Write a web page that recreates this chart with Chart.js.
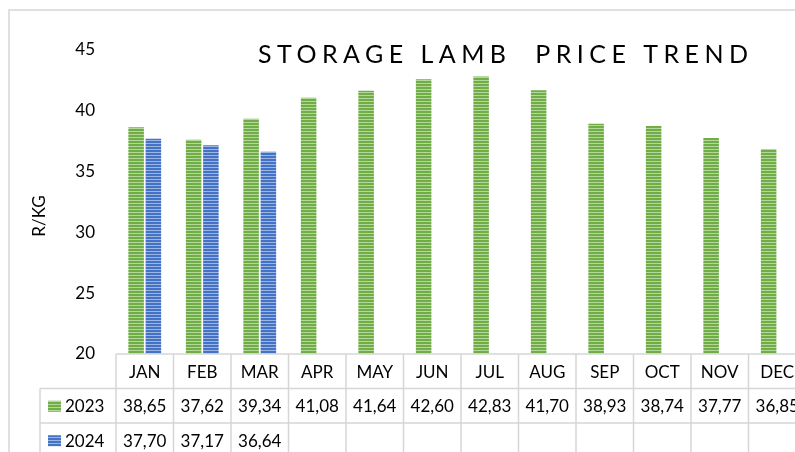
<!DOCTYPE html>
<html>
<head>
<meta charset="utf-8">
<script src="https://cdn.jsdelivr.net/npm/chart.js@4.4.1/dist/chart.umd.min.js"></script>
<style>
  html, body { margin: 0; padding: 0; background: #fff; overflow: hidden; }
  #wrap { width: 795px; height: 452px; overflow: hidden; }
</style>
</head>
<body>
<div id="wrap"><canvas id="priceChart" width="815" height="452"></canvas></div>
<script>
const months = ['JAN', 'FEB', 'MAR', 'APR', 'MAY', 'JUN', 'JUL', 'AUG', 'SEP', 'OCT', 'NOV', 'DEC'];
const prices2023 = [38.65, 37.62, 39.34, 41.08, 41.64, 42.60, 42.83, 41.70, 38.93, 38.74, 37.77, 36.85];
const prices2024 = [37.70, 37.17, 36.64, null, null, null, null, null, null, null, null, null];
const seriesNames = ['2023', '2024'];
const yTicks = [20, 25, 30, 35, 40, 45];
const chartTitle = 'STORAGE LAMB  PRICE TREND';
const axisTitle = 'R/KG';

const FONT = 'Lato, "Open Sans", sans-serif';
const GRID = '#d6d6d6';

// stripe fill like the excel pattern
function stripes(dark, light) {
  const c = document.createElement('canvas');
  c.width = 4;
  c.height = 3;
  const g = c.getContext('2d');
  g.fillStyle = dark;
  g.fillRect(0, 0, 4, 2);
  g.fillStyle = light;
  g.fillRect(0, 2, 4, 1);
  return g.createPattern(c, 'repeat');
}

const greenFill = stripes('#70AD47', '#B4D89C');
const blueFill = stripes('#4472C4', '#9DB5E3');

function fmt(v) {
  return v == null ? '' : v.toFixed(2).replace('.', ',');
}

// title, axis title, frame and data table
const tablePlugin = {
  id: 'tablePlugin',
  afterDraw(chart) {
    const ctx = chart.ctx;
    const area = chart.chartArea;
    const x = chart.scales.x;
    const colW = (area.right - area.left) / months.length;
    const rowH = 34.5;
    const top = area.bottom;
    const legendLeft = 40;

    ctx.save();
    // outer frame
    ctx.strokeStyle = GRID;
    ctx.lineWidth = 1.5;
    ctx.strokeRect(9, 10, 900, 600);

    // title, spread out to the width of the original
    ctx.fillStyle = '#000';
    ctx.font = '25px ' + FONT;
    ctx.textAlign = 'left';
    ctx.textBaseline = 'alphabetic';
    const plain = ctx.measureText(chartTitle).width;
    const spacing = (490 - plain) / (chartTitle.length - 1);
    ctx.letterSpacing = spacing + 'px';
    ctx.fillText(chartTitle, 258, 63);
    ctx.letterSpacing = '0px';

    // y axis title
    ctx.save();
    ctx.translate(40, 216);
    ctx.rotate(-Math.PI / 2);
    ctx.font = '17px ' + FONT;
    ctx.textAlign = 'center';
    ctx.textBaseline = 'middle';
    ctx.fillText(axisTitle, 0, 0);
    ctx.restore();

    // grid lines
    ctx.strokeStyle = GRID;
    ctx.lineWidth = 1.5;
    ctx.beginPath();
    ctx.moveTo(area.left, top);
    ctx.lineTo(area.right, top);
    for (let r = 1; r <= 3; r++) {
      ctx.moveTo(legendLeft, top + r * rowH);
      ctx.lineTo(area.right, top + r * rowH);
    }
    for (let i = 0; i <= months.length; i++) {
      const lx = area.left + i * colW;
      ctx.moveTo(lx, top);
      ctx.lineTo(lx, top + 3 * rowH);
    }
    ctx.moveTo(legendLeft, top + rowH);
    ctx.lineTo(legendLeft, top + 3 * rowH);
    ctx.stroke();

    // month labels and values
    ctx.fillStyle = '#000';
    ctx.font = '17px ' + FONT;
    ctx.textAlign = 'center';
    ctx.textBaseline = 'middle';
    months.forEach((m, i) => {
      const cx = x.getPixelForValue(i);
      ctx.fillText(m, cx, top + rowH / 2 + 1);
      ctx.fillText(fmt(prices2023[i]), cx, top + rowH * 1.5 + 1);
      ctx.fillText(fmt(prices2024[i]), cx, top + rowH * 2.5 + 1);
    });

    // legend keys
    const fills = [greenFill, blueFill];
    seriesNames.forEach((name, r) => {
      const cy = top + rowH * (r + 1.5);
      ctx.fillStyle = fills[r];
      ctx.fillRect(48, cy - 5, 13, 11);
      ctx.fillStyle = '#000';
      ctx.textAlign = 'left';
      ctx.fillText(name, 65, cy + 1);
    });
    ctx.restore();
  }
};

new Chart(document.getElementById('priceChart'), {
  type: 'bar',
  data: {
    labels: months,
    datasets: [
      {
        label: seriesNames[0],
        data: prices2023,
        backgroundColor: greenFill,
        borderWidth: 0
      },
      {
        label: seriesNames[1],
        data: prices2024,
        backgroundColor: blueFill,
        borderWidth: 0
      }
    ]
  },
  options: {
    responsive: false,
    animation: false,
    devicePixelRatio: 1,
    layout: { padding: { top: 50, bottom: 98, right: 9, left: 0 } },
    datasets: { bar: { categoryPercentage: 0.6, barPercentage: 0.9 } },
    plugins: {
      legend: { display: false },
      tooltip: { enabled: false },
      title: { display: false }
    },
    scales: {
      x: { display: false },
      y: {
        min: 20,
        max: 45,
        afterBuildTicks: scale => { scale.ticks = yTicks.map(v => ({ value: v })); },
        afterFit: scale => { scale.width = 116; },
        grid: { display: false, drawTicks: false },
        border: { display: false },
        ticks: {
          padding: 21,
          color: '#000',
          font: { family: FONT, size: 17 }
        }
      }
    }
  },
  plugins: [tablePlugin]
});
</script>
</body>
</html>
